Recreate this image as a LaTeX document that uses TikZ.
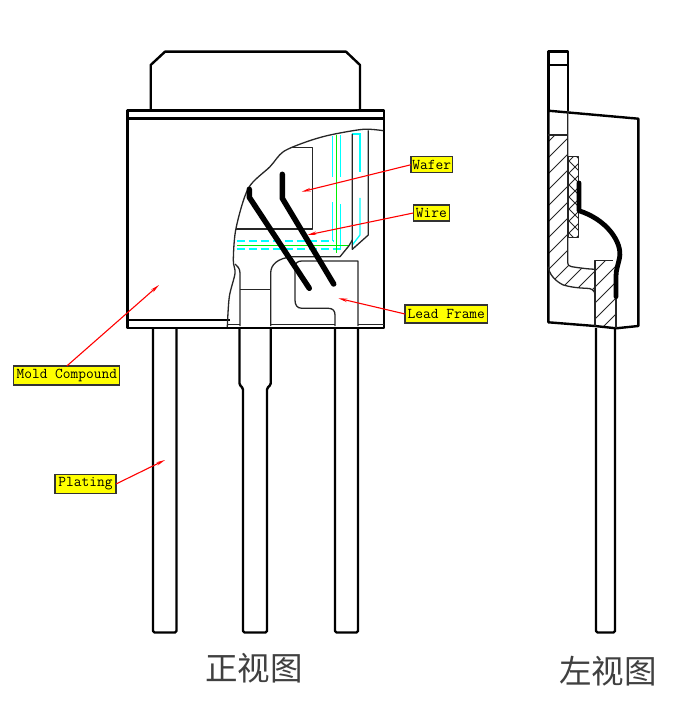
\documentclass[tikz,border=0pt]{standalone}
\usepackage{fontspec}
\newfontfamily\cjk{Noto Sans CJK SC}
\usetikzlibrary{arrows.meta}
\definecolor{purecyan}{RGB}{0,255,255}
\definecolor{puregreen}{RGB}{0,240,0}
\definecolor{purered}{RGB}{255,0,0}
\definecolor{pureyellow}{RGB}{255,255,0}
\tikzset{
  outline/.style={line width=2.4pt,black,line join=round},
  thinline/.style={line width=1.3pt,black!85,line join=round},
  bondwire/.style={line width=5.5pt,black,line cap=round,line join=round},
  hatchline/.style={line width=0.9pt,black!85},
  cyanline/.style={line width=1.3pt,purecyan},
  cyandash/.style={cyanline,dash pattern=on 8pt off 4pt},
  greenline/.style={line width=1.3pt,puregreen},
  callout/.style={draw=black!80,line width=1.2pt,fill=pureyellow,inner sep=0pt,outer sep=0pt,anchor=center,font=\ttfamily\fontsize{15}{15}\selectfont},
  pointer/.style={purered,line width=1.1pt,-{Stealth[length=9pt,width=3.5pt]}},
  viewtitle/.style={font=\cjk\fontsize{32.5}{32.5}\selectfont,inner sep=0pt,text=black!75},
}
\begin{document}
\begin{tikzpicture}[x=1pt,y=-1pt]
\useasboundingbox (0,0) rectangle (700,711);
% ---------- front view ----------
% top tab
\draw[outline] (150.7,110.7) -- (150.7,65) -- (165,51.7) -- (346,51.7) -- (360,65) -- (360,110.7);
% leads
\draw[outline,rounded corners=1.5pt] (153,328) -- (153,632.5) -- (176.5,632.5) -- (176.5,328);
\draw[outline,rounded corners=1.5pt] (239.5,328) -- (239.5,385) -- (243,388) -- (243,632.5) -- (267,632.5) -- (267,388) -- (270.7,385) -- (270.7,328);
\draw[outline,rounded corners=1.5pt] (335,328) -- (335,632.5) -- (358,632.5) -- (358,328);
% body
\draw[outline] (127.5,110.7) rectangle (384,328);
\draw[outline] (127.5,118.5) -- (384,118.5);
\draw[outline] (127.5,320) -- (230,320);
\draw[thinline] (228,324.5) -- (240,324.5) (270.7,324.5) -- (335,324.5) (358,324.5) -- (384,324.5);
% cyan and green construction lines
\draw[cyandash] (236.5,241) -- (332.7,241);
\draw[cyanline] (332.7,241) -- (332.7,201.7);
\draw[cyanline] (332.7,176.7) -- (332.7,136.5);
\draw[cyandash] (236.5,249) -- (340.7,249);
\draw[cyanline] (340.7,249) -- (340.7,204.3);
\draw[cyanline] (340.7,176.7) -- (340.7,135);
\draw[cyanline] (352.3,134) -- (360,134) -- (360,171.7);
\draw[cyanline] (360,198) -- (360,235) -- (352.3,245);
\draw[greenline] (336.3,135) -- (336.3,252.7);
\draw[greenline] (236.7,245.7) -- (349,245.7);
% cut-away edge
\draw[thinline] plot[smooth,tension=0.5] coordinates {(227.3,327) (229.3,296.7) (235,273.3) (233.3,260) (236,228.3) (248.3,188.3) (270,166.7) (283.3,151.7) (306.7,141.7) (330,135) (363.3,129.3) (383.3,130.7)};
% wafer
\draw[thinline] (291.7,147.3) -- (312.7,147.3) -- (312.7,229) -- (236,229);
% side block
\draw[thinline] (352.3,134) -- (352.3,249.3) -- (368.3,235) -- (368.3,130.5);
\draw[thinline] (352.3,240) -- (349,245.7);
\draw[thinline] (293,256.7) -- (340,256.7) -- (349,245.7);
% lead frame
\draw[thinline] (240,326) -- (240,273) .. controls (240,268) and (237,266) .. (235,264);
\draw[thinline] (270.7,326) -- (270.7,273) .. controls (270.7,265) and (277,258) .. (293,256.7);
\draw[thinline] (240,289.3) -- (270.7,289.3);
\draw[thinline] (358,326) -- (358,261) -- (301.7,261) .. controls (298,261) and (295,263) .. (295,267) -- (295,300) .. controls (295,305) and (297,308.3) .. (302,308.3) -- (328.3,308.3) .. controls (333,308.3) and (335,311) .. (335,315) -- (335,326);
% bond wires
\draw[bondwire] (249.3,189.3) -- (249.3,197.3) -- (309.3,288.3);
\draw[bondwire] (282.3,174.3) -- (282.3,198.3) -- (333.7,284);
% ---------- side view ----------
\begin{scope}
\clip (548.3,135) -- (567.7,135) -- (567.7,261.7) .. controls (567.7,265) and (569,266.7) .. (571.7,266.7) .. controls (580,268) and (588,269) .. (595,269.3) -- (595,260.7) -- (613.3,260.7) .. controls (614,262) and (616,265) .. (616,268) -- (616,328) -- (595,326) -- (595,295) .. controls (595,290) and (591,288.3) .. (586.7,288.3) .. controls (578,288) and (570,287) .. (563.3,285) .. controls (555,281) and (549,274) .. (548.3,266.7) -- cycle;
\foreach \c in {690,706,...,950}
  \draw[hatchline] (540,\c-540) -- (630,\c-630);
\end{scope}
\begin{scope}
\clip (568.3,156.7) rectangle (578.3,237.7);
\foreach \c in {730,742,...,830}
  \draw[hatchline] (560,\c-560) -- (590,\c-590);
\foreach \c in {-420,-408,...,-320}
  \draw[hatchline] (560,560+\c) -- (590,590+\c);
\end{scope}
\draw[thinline] (568.3,156.7) rectangle (578.3,237.7);
\draw[outline] (548.3,110.7) -- (548.3,51.7) -- (567.7,51.7) -- (567.7,110.7);
\draw[outline] (548.3,65) -- (567.7,65);
\draw[outline,rounded corners=1.5pt] (596,328) -- (596,632.5) -- (615,632.5) -- (615,328);
\draw[outline] (548.3,110.7) -- (638.3,118.7) -- (638.3,326) -- (616,328.3) -- (595,326) -- (548.3,322.3) -- cycle;
\draw[thinline] (567.7,110.7) -- (567.7,261.7) .. controls (567.7,265) and (569,266.7) .. (571.7,266.7) .. controls (580,268) and (588,269) .. (595,269.3);
\draw[thinline] (548.3,135) -- (567.7,135);
\draw[thinline] (595,326) -- (595,260.7) -- (613.3,260.7);
\draw[thinline] (616,268) -- (616,328.3);
\draw[thinline] (548.3,266.7) .. controls (549,274) and (555,281) .. (563.3,285) .. controls (570,287) and (578,288) .. (586.7,288.3) .. controls (591,288.3) and (595,290) .. (595,295);
\draw[line width=4.8pt,black,line cap=round,line join=round] (579,183) -- (579,210.7) .. controls (592,215) and (603,222) .. (611,232) .. controls (618,241) and (621,250) .. (619.5,258) .. controls (618,265) and (616,270) .. (616,276) -- (616,296.7);
% ---------- labels ----------
\node[callout,minimum width=41.5pt,minimum height=16pt] (wafer) at (431.8,164.7) {Wafer};
\node[callout,minimum width=36pt,minimum height=16pt] (wire) at (431.3,213) {Wire};
\node[callout,minimum width=82.5pt,minimum height=18pt] (frame) at (446.3,314) {Lead Frame};
\node[callout,minimum width=106pt,minimum height=19pt] (mold) at (66.8,375.5) {Mold Compound};
\node[callout,minimum width=61pt,minimum height=19pt] (plating) at (85.5,484) {Plating};
\coordinate (waferTip) at (301.7,191.7);
\coordinate (wireTip) at (307.3,235);
\coordinate (frameTip) at (338.3,298.3);
\coordinate (moldTip) at (159,285);
\coordinate (platingTip) at (165,460);
\draw[pointer] (wafer.west) -- (waferTip);
\draw[pointer] (wire.west) -- (wireTip);
\draw[pointer] (frame.west) -- (frameTip);
\draw[pointer] (mold.north) -- (moldTip);
\draw[pointer] (plating.east) -- (platingTip);
\node[viewtitle] (front) at (254,668) {正视图};
\node[viewtitle] (left) at (608,671) {左视图};
\end{tikzpicture}
\end{document}
